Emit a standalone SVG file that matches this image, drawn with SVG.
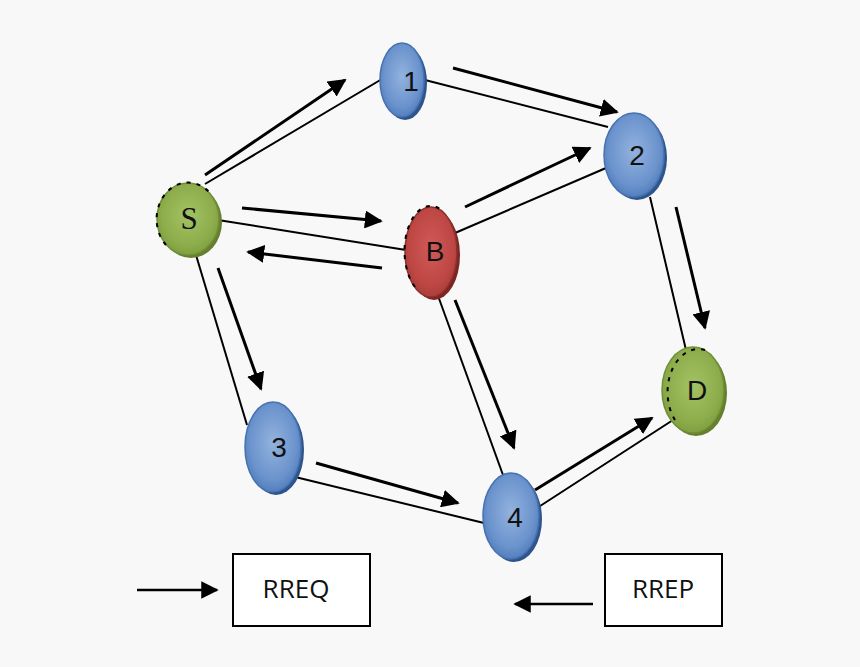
<svg xmlns="http://www.w3.org/2000/svg" width="860" height="667" viewBox="0 0 860 667">
<defs>
<radialGradient id="gb" cx="50%" cy="45%" r="60%">
<stop offset="0" stop-color="#93b3df"/>
<stop offset="0.7" stop-color="#6a92cc"/>
<stop offset="1" stop-color="#4a78b8"/>
</radialGradient>
<radialGradient id="gg" cx="50%" cy="45%" r="60%">
<stop offset="0" stop-color="#a3c264"/>
<stop offset="0.7" stop-color="#8dad4c"/>
<stop offset="1" stop-color="#7a993c"/>
</radialGradient>
<radialGradient id="gr" cx="50%" cy="45%" r="60%">
<stop offset="0" stop-color="#cf5a57"/>
<stop offset="0.7" stop-color="#be4744"/>
<stop offset="1" stop-color="#a33a37"/>
</radialGradient>
<marker id="ah" viewBox="0 0 10 10" refX="9" refY="5" markerWidth="6" markerHeight="6" markerUnits="strokeWidth" orient="auto">
<path d="M0,0 L10,5 L0,10 z" fill="#000"/>
</marker>
<marker id="ah2" viewBox="0 0 10 10" refX="9" refY="5" markerWidth="7" markerHeight="7" markerUnits="strokeWidth" orient="auto">
<path d="M0,0 L10,5 L0,10 z" fill="#000"/>
</marker>
</defs>
<style>
.link{stroke:#000;stroke-width:2;fill:none}
.arr{stroke:#000;stroke-width:3;fill:none;marker-end:url(#ah)}
.leg{stroke:#000;stroke-width:2.5;fill:none;marker-end:url(#ah2)}
.blue{fill:url(#gb);stroke:#4672b0;stroke-width:1.5}
.green{fill:url(#gg);stroke:#6f8f35;stroke-width:1.5}
.red{fill:url(#gr);stroke:#8e2f2c;stroke-width:1.5}
.shb{fill:#2f548c}
.shg{fill:#647f2e}
.shr{fill:#7a2624}
.dash{fill:none;stroke:#000;stroke-width:2;stroke-dasharray:4 6}
.lab{font-family:"Liberation Sans",Arial,sans-serif;font-size:28px;fill:#111;text-anchor:middle}
.labs{font-family:"Liberation Serif","Times New Roman",serif;font-size:31px;fill:#111;text-anchor:middle}
.box{fill:#fff;stroke:#000;stroke-width:2}
.bt{font-family:"Open Sans","Liberation Sans",sans-serif;font-size:26px;fill:#111;text-anchor:middle}
</style>
<rect width="860" height="667" fill="#f8f8f8"/>
<g id="connectors">
<line class="link" x1="205" y1="184" x2="382" y2="79"/>
<line class="link" x1="425" y1="80" x2="608" y2="127"/>
<line class="link" x1="218" y1="220" x2="406" y2="250"/>
<line class="link" x1="455" y1="233" x2="606" y2="168"/>
<line class="link" x1="196" y1="255" x2="247" y2="425"/>
<line class="link" x1="437" y1="293" x2="503" y2="475"/>
<line class="link" x1="650" y1="197" x2="686" y2="350"/>
<line class="link" x1="287" y1="475" x2="484" y2="523"/>
<line class="link" x1="537" y1="508" x2="673" y2="420"/>
<line class="arr" x1="205" y1="175" x2="345" y2="80"/>
<line class="arr" x1="453" y1="68" x2="617" y2="112"/>
<line class="arr" x1="242" y1="208" x2="381" y2="221"/>
<line class="arr" x1="382" y1="268" x2="248" y2="252"/>
<line class="arr" x1="465" y1="207" x2="590" y2="148"/>
<line class="arr" x1="218" y1="268" x2="261" y2="389"/>
<line class="arr" x1="455" y1="300" x2="514" y2="448"/>
<line class="arr" x1="676" y1="207" x2="705" y2="328"/>
<line class="arr" x1="316" y1="463" x2="458" y2="503"/>
<line class="arr" x1="535" y1="490" x2="652" y2="418"/>
</g>
<g id="node-1">
<ellipse class="shb" cx="405" cy="83" rx="22" ry="37"/>
<ellipse class="blue" cx="402" cy="80" rx="22" ry="37"/>
<text class="lab" x="411" y="91">1</text>
</g>
<g id="node-2">
<ellipse class="shb" cx="637" cy="158" rx="30" ry="42"/>
<ellipse class="blue" cx="634" cy="155" rx="30" ry="42"/>
<text class="lab" x="637" y="165">2</text>
</g>
<g id="node-S">
<ellipse class="shg" cx="191" cy="222" rx="31" ry="36"/>
<ellipse class="green" cx="188" cy="219" rx="31" ry="36"/>
<path class="dash" d="M166,245 A31,36 0 0 1 210,193"/>
<text class="labs" x="189" y="229">S</text>
</g>
<g id="node-B">
<ellipse class="shr" cx="434" cy="255" rx="26" ry="45"/>
<ellipse class="red" cx="431" cy="252" rx="26" ry="45"/>
<path class="dash" d="M415,287 A26,45 0 0 1 440,209"/>
<text class="lab" x="435" y="261">B</text>
</g>
<g id="node-D">
<ellipse class="shg" cx="696" cy="393" rx="31" ry="43"/>
<ellipse class="green" cx="693" cy="390" rx="31" ry="43"/>
<path class="dash" d="M675,420 A31,43 0 0 1 705,350"/>
<text class="lab" x="697" y="400">D</text>
</g>
<g id="node-3">
<ellipse class="shb" cx="276" cy="450" rx="28" ry="45"/>
<ellipse class="blue" cx="273" cy="447" rx="28" ry="45"/>
<text class="lab" x="279" y="457">3</text>
</g>
<g id="node-4">
<ellipse class="shb" cx="514" cy="519" rx="28" ry="43"/>
<ellipse class="blue" cx="511" cy="516" rx="28" ry="43"/>
<text class="lab" x="515" y="527">4</text>
</g>
<g id="legend-rreq">
<line class="leg" x1="137" y1="590" x2="217" y2="590"/>
<rect class="box" x="233" y="554" width="137" height="72"/>
<text class="bt" x="296" y="598">RREQ</text>
</g>
<g id="legend-rrep">
<line class="leg" x1="593" y1="604" x2="515" y2="604"/>
<rect class="box" x="605" y="554" width="117" height="72"/>
<text class="bt" x="663" y="598">RREP</text>
</g>
</svg>
